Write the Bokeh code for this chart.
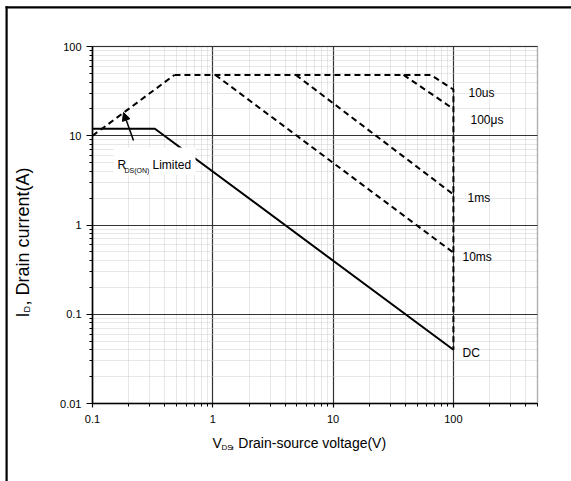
import math
from bokeh.plotting import figure
from bokeh.models import (FixedTicker, Label, BoxAnnotation, Arrow, NormalHead,
                          Range1d, CustomJSTickFormatter)
from bokeh.embed import file_html
from bokeh.resources import INLINE

# ---- data ----
dc_v = [0.1, 0.33, 100]
dc_i = [12, 12, 0.04]
rds_v = [0.1, 0.48]
rds_i = [10, 48]
us10_v = [0.48, 65, 100, 100]
us10_i = [48, 48, 33, 0.04]
us100_v = [38.5, 100]
us100_i = [48, 20]
ms1_v = [4.9, 100]
ms1_i = [48, 2.2]
ms10_v = [1.05, 100]
ms10_i = [48, 0.49]

XMIN, XMAX, YMIN, YMAX = 0.1, 500, 0.01, 100

x_major = [0.1, 1, 10, 100]
y_major = [0.01, 0.1, 1, 10, 100]
x_minor = [v for v in (m * 10.0 ** k for k in (-1, 0, 1, 2) for m in range(2, 10))
           if v < XMAX * 1.001]
y_minor = [m * 10.0 ** k for k in (-2, -1, 0, 1) for m in range(2, 10)]

curve_labels = ["10us", "100\u03bcs", "1ms", "10ms", "DC"]

# ---- layout: where the plot area sits (canvas px) ----
FL, FR, FT, FB = 92, 537, 46, 403
W, H = 571, 481


def xd(px):
    return 10 ** (math.log10(XMIN) + (px - FL) / (FR - FL) * math.log10(XMAX / XMIN))


def yd(py):
    return 10 ** (math.log10(YMAX) - (py - FT) / (FB - FT) * math.log10(YMAX / YMIN))


FONT = "Liberation Sans"

# the frame covers the whole canvas; axes are pinned at the data limits
p = figure(width=W, height=H, x_axis_type="log", y_axis_type="log",
           x_range=Range1d(xd(0), xd(W)), y_range=Range1d(yd(H), yd(0)),
           output_backend="svg", toolbar_location=None,
           min_border_left=0, min_border_right=0, min_border_top=0,
           min_border_bottom=0)
p.background_fill_color = "white"
p.border_fill_color = "white"
p.outline_line_color = None

fmt = CustomJSTickFormatter(code="return String(tick)")
p.xaxis.ticker = FixedTicker(ticks=x_major, minor_ticks=x_minor)
p.yaxis.ticker = FixedTicker(ticks=y_major, minor_ticks=y_minor)
p.xaxis.formatter = fmt
p.yaxis.formatter = fmt
p.xaxis.fixed_location = YMIN
p.yaxis.fixed_location = XMIN
p.xaxis.bounds = (XMIN, XMAX)
p.yaxis.bounds = (YMIN, YMAX)
for ax in (p.xaxis, p.yaxis):
    ax.axis_line_color = "black"
    ax.axis_line_width = 1.5
    ax.major_tick_line_color = "black"
    ax.minor_tick_line_color = "black"
    ax.major_tick_line_width = 1.2
    ax.minor_tick_line_width = 1
    ax.major_tick_in = 0
    ax.minor_tick_in = 0
    ax.minor_tick_out = 3
    ax.major_label_text_font = FONT
    ax.major_label_text_font_size = "11px"
    ax.major_label_text_color = "black"
p.yaxis.major_tick_out = 6
p.yaxis.major_label_standoff = 5
p.xaxis.major_tick_out = 4
p.xaxis.major_label_standoff = 7

for g in (p.xgrid, p.ygrid):
    g.grid_line_color = "#333333"
    g.grid_line_width = 1.2
    g.minor_grid_line_color = "#cfcfcf"
    g.minor_grid_line_dash = "1 1"
    g.minor_grid_line_width = 1
p.xgrid.ticker = p.xaxis.ticker
p.ygrid.ticker = p.yaxis.ticker
p.xgrid.bounds = (XMIN, XMAX)
p.ygrid.bounds = (YMIN, YMAX)
p.xgrid.cross_bounds = (YMIN, YMAX)
p.ygrid.cross_bounds = (XMIN, XMAX)

# plot-area outline (top/right edges show; left/bottom covered by axes)
p.add_layout(BoxAnnotation(left=XMIN, right=XMAX, bottom=YMIN, top=YMAX,
                           fill_alpha=0, line_color="#333333", line_width=1.5,
                           level="underlay"))

# ---- curves ----
p.line(dc_v, dc_i, line_color="black", line_width=2)
for xs, ys in ((rds_v, rds_i), (us10_v, us10_i), (us100_v, us100_i),
               (ms1_v, ms1_i), (ms10_v, ms10_i)):
    p.line(xs, ys, line_color="black", line_width=2, line_dash="6 4")

# ---- annotations ----
# outer page frame: only its left and top edges are inside the picture
p.add_layout(BoxAnnotation(left=xd(5), right=xd(7.2), top=yd(5.8), bottom=yd(H + 40),
                           fill_color="black", fill_alpha=1, line_alpha=0))
p.add_layout(BoxAnnotation(left=xd(5), right=xd(W + 40), top=yd(5.8), bottom=yd(8),
                           fill_color="black", fill_alpha=1, line_alpha=0))

p.add_layout(BoxAnnotation(left=xd(113), right=xd(195), top=yd(147), bottom=yd(174),
                           fill_color="white", fill_alpha=1, line_alpha=0))
p.add_layout(Arrow(end=NormalHead(size=8, fill_color="black", line_color="black"),
                   x_start=xd(133), y_start=yd(140), x_end=xd(123), y_end=yd(112),
                   line_color="black", line_width=1.5))


def lab(px, py, text, size, angle=0, baseline="alphabetic"):
    p.add_layout(Label(x=xd(px), y=yd(py), text=text, text_font=FONT,
                       text_font_size=size, text_color="black", angle=angle,
                       text_align="left", text_baseline=baseline))


lab(117, 164, "R", "12px")
lab(124, 170, "DS(ON)", "7px")
lab(152, 164, "Limited", "12px")

label_px = [(468, 92), (470, 119), (467, 197), (462, 256), (462, 352)]
for (lx, ly), t in zip(label_px, curve_labels):
    lab(lx, ly, t, "12px", baseline="middle")

# axis titles with subscripts
lab(212, 442, "V", "14px")
lab(221, 447, "DS", "8px")
lab(230, 442, ", Drain-source voltage(V)", "14px")

lab(22, 317, "I", "18px", angle=math.pi / 2)
lab(26, 312, "D", "9px", angle=math.pi / 2)
lab(22, 305, ", Drain current(A)", "18px", angle=math.pi / 2)

open("out.html", "w").write(file_html(p, INLINE))
